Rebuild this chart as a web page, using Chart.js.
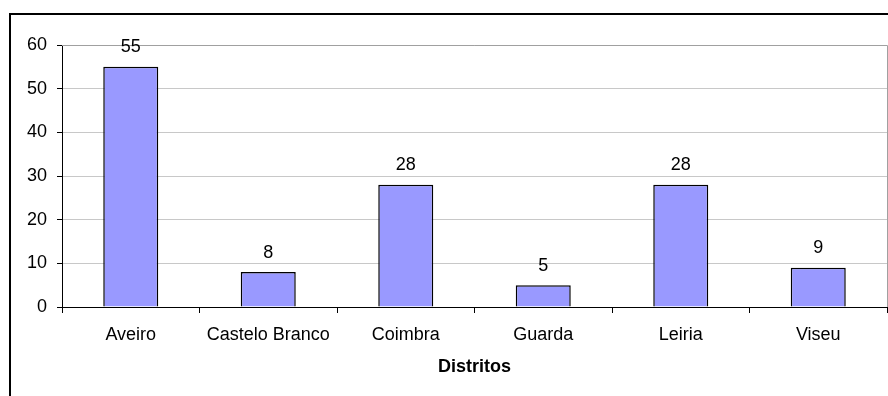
<!DOCTYPE html>
<html>
<head>
<meta charset="utf-8">
<script src="https://cdn.jsdelivr.net/npm/chart.js@4/dist/chart.umd.min.js"></script>
<style>
  html, body { margin: 0; padding: 0; background: #ffffff; }
  #wrap { width: 888px; height: 396px; position: relative; }
</style>
</head>
<body>
<div id="wrap"><canvas id="c" width="888" height="396"></canvas></div>
<script>
// Distritos e respetivas contagens
const categories = ['Aveiro', 'Castelo Branco', 'Coimbra', 'Guarda', 'Leiria', 'Viseu'];
const values = [55, 8, 28, 5, 28, 9];
const yMin = 0;
const yMax = 60;
const yStep = 10;
const xTitle = 'Distritos';

const FONT = "'Liberation Sans', Arial, sans-serif";

// Moldura exterior do gráfico
const frame = {
  id: 'frame',
  afterDraw(chart) {
    const ctx = chart.ctx;
    ctx.save();
    ctx.strokeStyle = '#000';
    ctx.lineWidth = 2;
    ctx.strokeRect(10, 14, 1200, 1200);
    ctx.restore();
  }
};

// Limites superior e direito da área de plotagem
const plotBorder = {
  id: 'plotBorder',
  beforeDatasetsDraw(chart) {
    const a = chart.chartArea;
    const ctx = chart.ctx;
    ctx.save();
    ctx.strokeStyle = '#a0a0a0';
    ctx.lineWidth = 1;
    ctx.beginPath();
    ctx.moveTo(a.left, Math.round(a.top) + 0.5);
    ctx.lineTo(Math.round(a.right) + 0.5, Math.round(a.top) + 0.5);
    ctx.lineTo(Math.round(a.right) + 0.5, Math.round(a.bottom));
    ctx.stroke();
    ctx.restore();
  }
};

// Valor escrito por cima de cada barra
const valueLabels = {
  id: 'valueLabels',
  afterDatasetsDraw(chart) {
    const ctx = chart.ctx;
    const meta = chart.getDatasetMeta(0);
    const data = chart.data.datasets[0].data;
    ctx.save();
    ctx.fillStyle = '#000';
    ctx.font = '18px ' + FONT;
    ctx.textAlign = 'center';
    ctx.textBaseline = 'alphabetic';
    meta.data.forEach((bar, i) => {
      ctx.fillText(String(data[i]), bar.x, bar.y - 14.5);
    });
    ctx.restore();
  }
};

new Chart(document.getElementById('c'), {
  type: 'bar',
  data: {
    labels: categories,
    datasets: [{
      data: values,
      backgroundColor: '#9999ff',
      borderColor: '#000000',
      borderWidth: 1.5,
      barPercentage: 0.4,
      categoryPercentage: 1.0
    }]
  },
  options: {
    responsive: false,
    devicePixelRatio: 1,
    animation: false,
    layout: { padding: { top: 45, right: 1, bottom: 0, left: 0 } },
    plugins: {
      legend: { display: false },
      tooltip: { enabled: false },
      title: { display: false }
    },
    scales: {
      x: {
        offset: true,
        afterFit: (s) => { s.height = 89; },
        grid: {
          offset: true,
          drawOnChartArea: false,
          drawTicks: true,
          tickLength: 6,
          tickColor: '#000'
        },
        border: { display: true, color: '#000', width: 1 },
        ticks: {
          color: '#000',
          font: { family: FONT, size: 18 },
          padding: 11,
          maxRotation: 0,
          autoSkip: false
        },
        title: {
          display: true,
          text: xTitle,
          color: '#000',
          font: { family: FONT, size: 18, weight: 'bold' },
          padding: { top: 0, bottom: 18 }
        }
      },
      y: {
        min: yMin,
        max: yMax,
        afterFit: (s) => { s.width = 62; },
        grid: {
          color: (c) => (c.tick && c.tick.value === 0 ? '#000' : '#c8c8c8'),
          tickColor: '#000',
          tickLength: 5,
          drawTicks: true
        },
        border: { display: true, color: '#000', width: 1 },
        ticks: {
          stepSize: yStep,
          color: '#000',
          font: { family: FONT, size: 18 },
          padding: 10
        }
      }
    }
  },
  plugins: [plotBorder, valueLabels, frame]
});
</script>
</body>
</html>
